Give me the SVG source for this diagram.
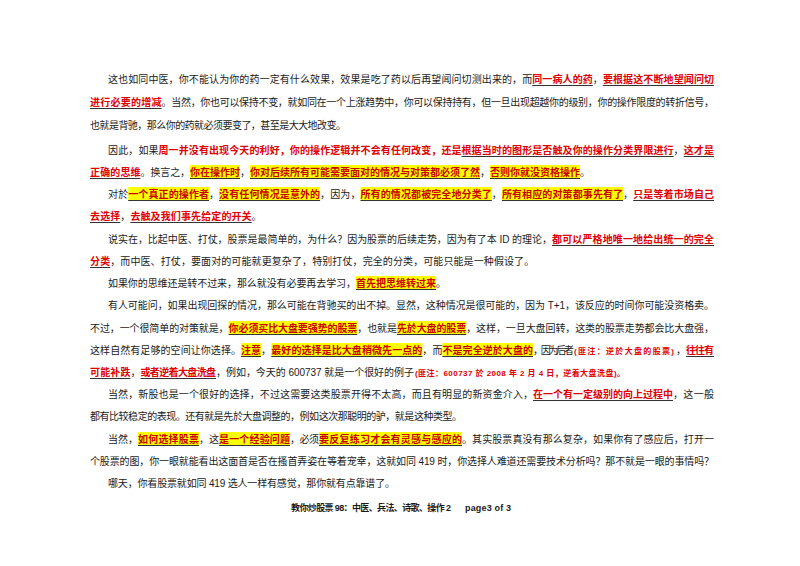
<svg xmlns="http://www.w3.org/2000/svg" width="800" height="566" viewBox="0 0 800 566">
<style>
text{font-family:"Liberation Sans","Noto Sans CJK SC",sans-serif;font-size:10px;fill:#1a1a1a}
.r{fill:#e00000;font-weight:bold}
.y{fill:#c80000;font-weight:bold}
.s{font-size:8px}
.f{font-size:9px;font-weight:bold}
.hl{fill:#ffff00}
.u{stroke:#333;stroke-width:1}
</style>
<rect width="800" height="566" fill="#fff"/>
<g id="highlights">
<rect class="hl" x="190" y="165" width="50" height="14"/>
<rect class="hl" x="250" y="165" width="230" height="14"/>
<rect class="hl" x="490" y="165" width="90" height="14"/>
<rect class="hl" x="128.2" y="187" width="80.8" height="14"/>
<rect class="hl" x="219.1" y="187" width="101" height="14"/>
<rect class="hl" x="360.5" y="187" width="131.3" height="14"/>
<rect class="hl" x="501.9" y="187" width="121.2" height="14"/>
<rect class="hl" x="356" y="276" width="80" height="14"/>
<rect class="hl" x="228.6" y="321" width="128.7" height="14"/>
<rect class="hl" x="396.9" y="321" width="69.3" height="14"/>
<rect class="hl" x="241" y="343" width="20.1" height="14"/>
<rect class="hl" x="271.3" y="343" width="151" height="14"/>
<rect class="hl" x="442.4" y="343" width="90.6" height="14"/>
<rect class="hl" x="138" y="432" width="61" height="14"/>
<rect class="hl" x="219" y="432" width="71" height="14"/>
<rect class="hl" x="319" y="432" width="143" height="14"/>
</g>
<g id="underlines">
<line class="u" x1="532.2" y1="85.5" x2="592.8" y2="85.5"/>
<line class="u" x1="602.9" y1="85.5" x2="714" y2="85.5"/>
<line class="u" x1="90" y1="108.5" x2="161.6" y2="108.5"/>
<line class="u" x1="461.5" y1="156.5" x2="673.6" y2="156.5"/>
<line class="u" x1="683.7" y1="156.5" x2="714" y2="156.5"/>
<line class="u" x1="90" y1="178.5" x2="140.5" y2="178.5"/>
<line class="u" x1="190" y1="178.5" x2="240" y2="178.5"/>
<line class="u" x1="250" y1="178.5" x2="480" y2="178.5"/>
<line class="u" x1="490" y1="178.5" x2="580" y2="178.5"/>
<line class="u" x1="128.2" y1="200.5" x2="209" y2="200.5"/>
<line class="u" x1="219.1" y1="200.5" x2="320.1" y2="200.5"/>
<line class="u" x1="360.5" y1="200.5" x2="491.8" y2="200.5"/>
<line class="u" x1="501.9" y1="200.5" x2="623.1" y2="200.5"/>
<line class="u" x1="633.2" y1="200.5" x2="714" y2="200.5"/>
<line class="u" x1="90" y1="222.5" x2="120.3" y2="222.5"/>
<line class="u" x1="130.4" y1="222.5" x2="251.6" y2="222.5"/>
<line class="u" x1="552" y1="245.5" x2="714" y2="245.5"/>
<line class="u" x1="90" y1="267.5" x2="110.2" y2="267.5"/>
<line class="u" x1="356" y1="289.5" x2="436" y2="289.5"/>
<line class="u" x1="228.6" y1="334.5" x2="357.3" y2="334.5"/>
<line class="u" x1="396.9" y1="334.5" x2="466.2" y2="334.5"/>
<line class="u" x1="241" y1="356.5" x2="261.1" y2="356.5"/>
<line class="u" x1="271.3" y1="356.5" x2="422.3" y2="356.5"/>
<line class="u" x1="442.4" y1="356.5" x2="533" y2="356.5"/>
<line class="u" x1="686" y1="356.5" x2="714" y2="356.5"/>
<line class="u" x1="90" y1="378.5" x2="130.4" y2="378.5"/>
<line class="u" x1="140.5" y1="378.5" x2="216" y2="378.5"/>
<line class="u" x1="533" y1="400.5" x2="673" y2="400.5"/>
<line class="u" x1="138" y1="445.5" x2="199" y2="445.5"/>
<line class="u" x1="219" y1="445.5" x2="290" y2="445.5"/>
<line class="u" x1="319" y1="445.5" x2="462" y2="445.5"/>
</g>
<g id="p1">
<text x="108" y="83" textLength="424.2" lengthAdjust="spacing">这也如同中医，你不能认为你的药一定有什么效果，效果是吃了药以后再望闻问切测出来的，而</text>
<text class="r" x="532.2" y="83" textLength="60.6" lengthAdjust="spacing">同一病人的药</text>
<text x="592.8" y="83">，</text>
<text class="r" x="602.9" y="83" textLength="111.1" lengthAdjust="spacing">要根据这不断地望闻问切</text>
<text class="r" x="90" y="106" textLength="71.6" lengthAdjust="spacing">进行必要的增减</text>
<text x="161.6" y="106" textLength="552.4" lengthAdjust="spacing">。当然，你也可以保持不变，就如同在一个上涨趋势中，你可以保持持有，但一旦出现超越你的级别，你的操作限度的转折信号，</text>
<text x="90" y="129" textLength="256" lengthAdjust="spacing">也就是背驰，那么你的药就必须要变了，甚至是大大地改变。</text>
</g>
<g id="p2">
<text x="108" y="154" textLength="50.5" lengthAdjust="spacing">因此，如果</text>
<text class="r" x="158.5" y="154" textLength="303" lengthAdjust="spacing">周一并没有出现今天的利好，你的操作逻辑并不会有任何改变，还是</text>
<text class="r" x="461.5" y="154" textLength="212.1" lengthAdjust="spacing">根据当时的图形是否触及你的操作分类界限进行</text>
<text x="673.6" y="154">，</text>
<text class="r" x="683.7" y="154" textLength="30.3" lengthAdjust="spacing">这才是</text>
<text class="r" x="90" y="176" textLength="50.5" lengthAdjust="spacing">正确的思维</text>
<text x="140.5" y="176" textLength="49.5" lengthAdjust="spacing">。换言之，</text>
<text class="y" x="190" y="176" textLength="50" lengthAdjust="spacing">你在操作时</text>
<text x="240" y="176">，</text>
<text class="y" x="250" y="176" textLength="230" lengthAdjust="spacing">你对后续所有可能需要面对的情况与对策都必须了然</text>
<text x="480" y="176">，</text>
<text class="y" x="490" y="176" textLength="90" lengthAdjust="spacing">否则你就没资格操作</text>
<text x="580" y="176">。</text>
</g>
<g id="p3">
<text x="108" y="198" textLength="20.2" lengthAdjust="spacing">对於</text>
<text class="y" x="128.2" y="198" textLength="80.8" lengthAdjust="spacing">一个真正的操作者</text>
<text x="209" y="198">，</text>
<text class="y" x="219.1" y="198" textLength="101" lengthAdjust="spacing">没有任何情况是意外的</text>
<text x="320.1" y="198" textLength="40.4" lengthAdjust="spacing">，因为，</text>
<text class="y" x="360.5" y="198" textLength="131.3" lengthAdjust="spacing">所有的情况都被完全地分类了</text>
<text x="491.8" y="198">，</text>
<text class="y" x="501.9" y="198" textLength="121.2" lengthAdjust="spacing">所有相应的对策都事先有了</text>
<text x="623.1" y="198">，</text>
<text class="r" x="633.2" y="198" textLength="80.8" lengthAdjust="spacing">只是等着市场自己</text>
<text class="r" x="90" y="220" textLength="30.3" lengthAdjust="spacing">去选择</text>
<text x="120.3" y="220">，</text>
<text class="r" x="130.4" y="220" textLength="121.2" lengthAdjust="spacing">去触及我们事先给定的开关</text>
<text x="251.6" y="220">。</text>
</g>
<g id="p4">
<text x="108" y="243" textLength="444" lengthAdjust="spacing">说实在，比起中医、打仗，股票是最简单的，为什么？因为股票的后续走势，因为有了本 ID 的理论，</text>
<text class="r" x="552" y="243" textLength="162" lengthAdjust="spacing">都可以严格地唯一地给出统一的完全</text>
<text class="r" x="90" y="265" textLength="20.2" lengthAdjust="spacing">分类</text>
<text x="110.2" y="265" textLength="424" lengthAdjust="spacing">，而中医、打仗，要面对的可能就更复杂了，特别打仗，完全的分类，可能只能是一种假设了。</text>
</g>
<g id="p5">
<text x="108" y="287" textLength="248" lengthAdjust="spacing">如果你的思维还是转不过来，那么就没有必要再去学习，</text>
<text class="y" x="356" y="287" textLength="80" lengthAdjust="spacing">首先把思维转过来</text>
<text x="436" y="287">。</text>
</g>
<g id="p6">
<text x="108" y="309" textLength="606" lengthAdjust="spacing">有人可能问，如果出现回探的情况，那么可能在背驰买的出不掉。显然，这种情况是很可能的，因为 T+1，该反应的时间你可能没资格卖。</text>
<text x="90" y="332" textLength="138.6" lengthAdjust="spacing">不过，一个很简单的对策就是，</text>
<text class="y" x="228.6" y="332" textLength="128.7" lengthAdjust="spacing">你必须买比大盘要强势的股票</text>
<text x="357.3" y="332" textLength="39.6" lengthAdjust="spacing">，也就是</text>
<text class="y" x="396.9" y="332" textLength="69.3" lengthAdjust="spacing">先於大盘的股票</text>
<text x="466.2" y="332" textLength="247.8" lengthAdjust="spacing">，这样，一旦大盘回转，这类的股票走势都会比大盘强，</text>
<text x="90" y="354" textLength="151" lengthAdjust="spacing">这样自然有足够的空间让你选择。</text>
<text class="y" x="241" y="354" textLength="20.1" lengthAdjust="spacing">注意</text>
<text x="261.1" y="354">，</text>
<text class="y" x="271.3" y="354" textLength="151" lengthAdjust="spacing">最好的选择是比大盘稍微先一点的</text>
<text x="422.3" y="354" textLength="20.1" lengthAdjust="spacing">，而</text>
<text class="y" x="442.4" y="354" textLength="90.6" lengthAdjust="spacing">不是完全逆於大盘的</text>
<text x="533" y="354" textLength="41" lengthAdjust="spacing">，因为后者</text>
<text class="r s" x="574" y="354" textLength="100" lengthAdjust="spacing">(匪注：逆於大盘的股票)</text>
<text x="676" y="354">，</text>
<text class="r" x="686" y="354" textLength="28" lengthAdjust="spacing">往往有</text>
<text class="r" x="90" y="376" textLength="40.4" lengthAdjust="spacing">可能补跌</text>
<text x="130.4" y="376">，</text>
<text class="r" x="140.5" y="376" textLength="75.5" lengthAdjust="spacing">或者逆着大盘洗盘</text>
<text x="216" y="376" textLength="198" lengthAdjust="spacing">，例如，今天的 600737 就是一个很好的例子</text>
<text class="r s" x="415" y="376" textLength="210" lengthAdjust="spacing">(匪注：600737 於 2008 年 2 月 4 日，逆着大盘洗盘)。</text>
</g>
<g id="p7">
<text x="108" y="398" textLength="425" lengthAdjust="spacing">当然，新股也是一个很好的选择，不过这需要这类股票开得不太高，而且有明显的新资金介入，</text>
<text class="r" x="533" y="398" textLength="140" lengthAdjust="spacing">在一个有一定级别的向上过程中</text>
<text x="673" y="398" textLength="41" lengthAdjust="spacing">，这一般</text>
<text x="90" y="420" textLength="372" lengthAdjust="spacing">都有比较稳定的表现。还有就是先於大盘调整的，例如这次那聪明的驴，就是这种类型。</text>
</g>
<g id="p8">
<text x="108" y="443" textLength="30" lengthAdjust="spacing">当然，</text>
<text class="y" x="138" y="443" textLength="61" lengthAdjust="spacing">如何选择股票</text>
<text x="199" y="443" textLength="20" lengthAdjust="spacing">，这</text>
<text class="y" x="219" y="443" textLength="71" lengthAdjust="spacing">是一个经验问题</text>
<text x="290" y="443" textLength="29" lengthAdjust="spacing">，必须</text>
<text class="y" x="319" y="443" textLength="143" lengthAdjust="spacing">要反复练习才会有灵感与感应的</text>
<text x="462" y="443" textLength="252" lengthAdjust="spacing">。其实股票真没有那么复杂，如果你有了感应后，打开一</text>
<text x="90" y="465" textLength="624" lengthAdjust="spacing">个股票的图，你一眼就能看出这面首是否在搔首弄姿在等着宠幸，这就如同 419 时，你选择人难道还需要技术分析吗？那不就是一眼的事情吗？</text>
<text x="108" y="487" textLength="287" lengthAdjust="spacing">哪天，你看股票就如同 419 选人一样有感觉，那你就有点靠谱了。</text>
</g>
<g id="footer">
<text class="f" x="291" y="511" textLength="160" lengthAdjust="spacing">教你炒股票 98：中医、兵法、诗歌、操作 2</text>
<text class="f" x="465" y="511" textLength="46" lengthAdjust="spacing">page3 of 3</text>
</g>
</svg>
